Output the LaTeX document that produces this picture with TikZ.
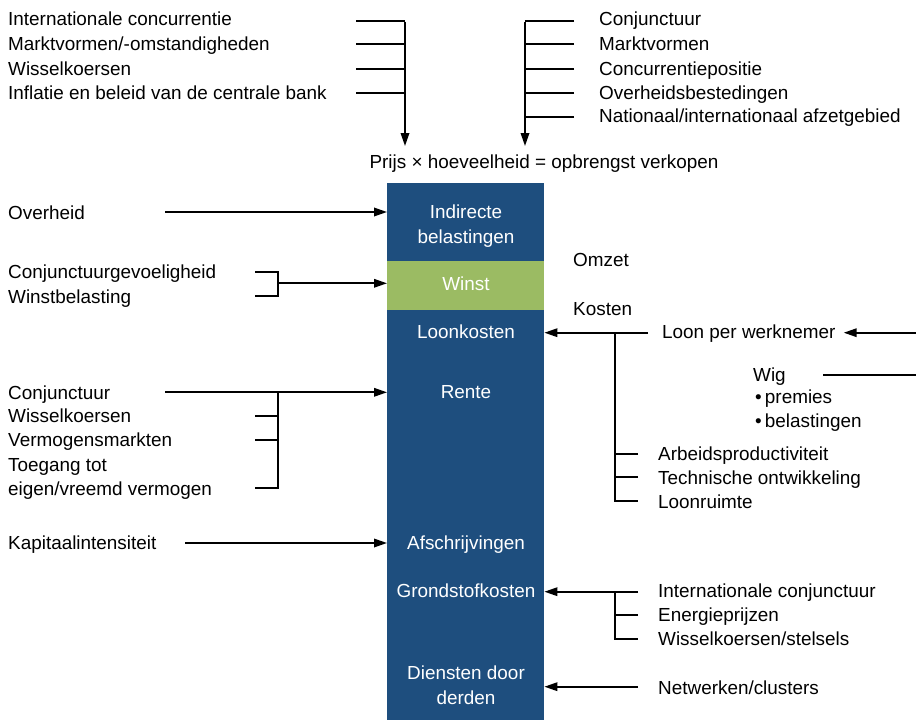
\documentclass[tikz,border=0pt]{standalone}
\usepackage{fontspec}
\setmainfont{Liberation Sans}
\usetikzlibrary{arrows.meta}
\definecolor{colblue}{RGB}{30,78,126}
\definecolor{colgreen}{RGB}{155,187,99}
\begin{document}
\begin{tikzpicture}[x=1pt,y=-1pt,
 lbl/.style={anchor=base west,inner sep=0pt,font=\fontsize{18.9}{24}\selectfont},
 clbl/.style={anchor=base,inner sep=0pt,text=white,align=center,font=\fontsize{18.9}{24.5}\selectfont},
 seg/.style={anchor=north west,inner sep=0pt,minimum width=157pt},
 conn/.style={line width=1.8pt},
 arr/.style={conn,-{Triangle[length=13pt,width=8.5pt]}},
]
\useasboundingbox (0,0) rectangle (916,720);
% column
\node[seg,fill=colblue,minimum height=78pt] (indir) at (387,183) {};
\node[seg,fill=colgreen,minimum height=49pt] (winst) at (387,261) {};
\node[seg,fill=colblue,minimum height=410pt] (kost) at (387,310) {};
\node[clbl] (tindir) at (466,243) {Indirecte\\belastingen};
\node[clbl] (twinst) at (466,290) {Winst};
\node[clbl] (tloon) at (466,338) {Loonkosten};
\node[clbl] (trente) at (466,398) {Rente};
\node[clbl] (tafsch) at (466,549) {Afschrijvingen};
\node[clbl] (tgrond) at (466,597) {Grondstofkosten};
\node[clbl] (tdienst) at (466,704) {Diensten door\\derden};
% top
\node[lbl] (tl1) at (8,25) {Internationale concurrentie};
\node[lbl] (tl2) at (8,50) {Marktvormen/-omstandigheden};
\node[lbl] (tl3) at (8,75) {Wisselkoersen};
\node[lbl] (tl4) at (8,99) {Inflatie en beleid van de centrale bank};
\node[lbl] (tr1) at (599,25) {Conjunctuur};
\node[lbl] (tr2) at (599,50) {Marktvormen};
\node[lbl] (tr3) at (599,75) {Concurrentiepositie};
\node[lbl] (tr4) at (599,99) {Overheidsbestedingen};
\node[lbl] (tr5) at (599,122) {Nationaal/internationaal afzetgebied};
\node[anchor=base,inner sep=0pt,font=\fontsize{18.9}{24}\selectfont] (prijs) at (544,168) {Prijs × hoeveelheid = opbrengst verkopen};
\coordinate (a1) at (356,20.7); \coordinate (a2) at (356,44.3);
\coordinate (a3) at (356,69); \coordinate (a4) at (356,92.7);
\coordinate (av) at (405,20.7); \coordinate (aend) at (405,146);
\foreach \c in {a1,a2,a3,a4} \draw[conn] (\c) -- (\c -| av);
\draw[arr] ([yshift=-0.9pt]av) -- (aend);
\coordinate (b1) at (574,20.7); \coordinate (b2) at (574,44.3);
\coordinate (b3) at (574,69); \coordinate (b4) at (574,92.7);
\coordinate (b5) at (574,116.7);
\coordinate (bv) at (525,20.7); \coordinate (bend) at (525,146);
\foreach \c in {b1,b2,b3,b4,b5} \draw[conn] (\c) -- (\c -| bv);
\draw[arr] ([yshift=-0.9pt]bv) -- (bend);
% left
\node[lbl] (overh) at (8,219) {Overheid};
\coordinate (c0) at (165,212);
\draw[arr] (c0) -- (c0 -| indir.west);
\node[lbl] (cgv) at (8,278) {Conjunctuurgevoeligheid};
\node[lbl] (wb) at (8,303) {Winstbelasting};
\coordinate (d1) at (255,271.7); \coordinate (d2) at (255,295.7);
\coordinate (dv) at (278,283.3);
\draw[conn] (d1) -| (dv) |- (d2);
\draw[arr] (dv) -- (dv -| winst.west);
\node[lbl] (lc1) at (8,399) {Conjunctuur};
\node[lbl] (lc2) at (8,422) {Wisselkoersen};
\node[lbl] (lc3) at (8,446) {Vermogensmarkten};
\node[lbl] (lc4) at (8,471) {Toegang tot};
\node[lbl] (lc5) at (8,495) {eigen/vreemd vermogen};
\coordinate (e0) at (165,392.3); \coordinate (ev) at (278,392.3);
\coordinate (e1) at (255,415.7); \coordinate (e2) at (255,440);
\coordinate (e3) at (255,487.7);
\draw[arr] (e0) -- (e0 -| kost.west);
\draw[conn] (ev) |- (e3);
\draw[conn] (e1) -- (e1 -| ev);
\draw[conn] (e2) -- (e2 -| ev);
\node[lbl] (kap) at (8,549) {Kapitaalintensiteit};
\coordinate (f0) at (185,543);
\draw[arr] (f0) -- (f0 -| kost.west);
% right
\node[lbl] (omzet) at (573,266) {Omzet};
\node[lbl] (kosten) at (573,315) {Kosten};
\node[lbl] (lpw) at (662,338) {Loon per werknemer};
\coordinate (g0) at (648,332.7); \coordinate (gv) at (615,332.7);
\draw[arr] (g0) -- (g0 -| kost.east);
\coordinate (g1) at (638,454); \coordinate (g2) at (638,476.7); \coordinate (g3) at (638,500.7);
\draw[conn] (gv) |- (g3);
\draw[conn] (g1) -- (g1 -| gv);
\draw[conn] (g2) -- (g2 -| gv);
\coordinate (h0) at (916,332.7);
\draw[arr] (h0) -- ([xshift=8pt]lpw.east |- h0);
\node[lbl] (wig) at (753,381) {Wig};
\node[lbl] (prem) at (755,403) {\textbullet\,premies};
\node[lbl] (bel) at (755,427) {\textbullet\,belastingen};
\coordinate (i0) at (916,375);
\draw[conn] (i0) -- ([xshift=-93pt]i0);
\node[lbl] (ap) at (658,460) {Arbeidsproductiviteit};
\node[lbl] (to) at (658,484) {Technische ontwikkeling};
\node[lbl] (lr) at (658,508) {Loonruimte};
\node[lbl] (ic) at (658,597) {Internationale conjunctuur};
\node[lbl] (ep) at (658,621) {Energieprijzen};
\node[lbl] (ws) at (658,645) {Wisselkoersen/stelsels};
\coordinate (j0) at (638,591.7); \coordinate (jv) at (615,591.7);
\coordinate (j1) at (638,615); \coordinate (j2) at (638,639);
\draw[arr] (j0) -- (j0 -| kost.east);
\draw[conn] (jv) |- (j2);
\draw[conn] (j1) -- (j1 -| jv);
\node[lbl] (nw) at (658,694) {Netwerken/clusters};
\coordinate (k0) at (638,686.7);
\draw[arr] (k0) -- (k0 -| kost.east);
\end{tikzpicture}
\end{document}
